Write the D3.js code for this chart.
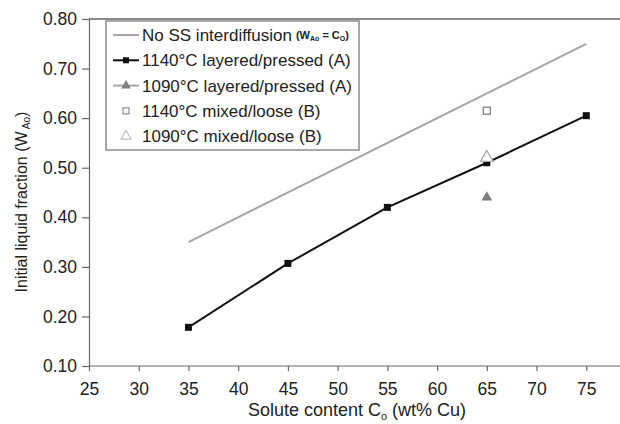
<!DOCTYPE html>
<html>
<head>
<meta charset="utf-8">
<script src="https://cdn.jsdelivr.net/npm/d3@7"></script>
<style>
  body { margin: 0; background: #fff; }
  svg { display: block; font-family: "Liberation Sans", Arial, sans-serif; }
</style>
</head>
<body>
<div id="chart-area"></div>
<script>
// data
var noSSx = [35, 75];
var noSSy = [0.35, 0.75];
var layered1140x = [35, 45, 55, 65, 75];
var layered1140y = [0.178, 0.307, 0.42, 0.51, 0.605];
var layered1090x = [65];
var layered1090y = [0.44];
var mixed1140x = [65];
var mixed1140y = [0.615];
var mixed1090x = [65];
var mixed1090y = [0.52];
var xTicks = [25, 30, 35, 40, 45, 50, 55, 60, 65, 70, 75];
var yTicks = [0.10, 0.20, 0.30, 0.40, 0.50, 0.60, 0.70, 0.80];

var W = 620, H = 424;
var margin = {top: 19, left: 89, bottom: 58};
// axis runs 25..80 but the picture is cut at the right edge
var x = d3.scaleLinear().domain([25, 80]).range([margin.left, 636]);
var y = d3.scaleLinear().domain([0.10, 0.80]).range([H - margin.bottom, margin.top]);

var svg = d3.select("#chart-area").append("svg")
  .attr("width", W).attr("height", H);

// frame top
svg.append("line")
  .attr("x1", x(25)).attr("x2", x(80))
  .attr("y1", y(0.8)).attr("y2", y(0.8))
  .attr("stroke", "#8a8a8a").attr("stroke-width", 2);

var xAxis = svg.append("g")
  .attr("transform", "translate(0," + y(0.1) + ")")
  .call(d3.axisBottom(x).tickValues(xTicks).tickSize(5).tickSizeOuter(0).tickPadding(12));
var yAxis = svg.append("g")
  .attr("transform", "translate(" + x(25) + ",0)")
  .call(d3.axisLeft(y).tickValues(yTicks).tickSize(7).tickSizeOuter(0).tickPadding(5)
    .tickFormat(d3.format(".2f")));

[xAxis, yAxis].forEach(function(a) {
  a.selectAll("path, line").attr("stroke", "#666").attr("stroke-width", 1.2);
  a.selectAll("text").attr("font-size", "17.5px").attr("fill", "#222")
    .attr("font-family", "Liberation Sans, Arial, sans-serif");
});
xAxis.select(".domain").attr("d", "M" + x(25) + ",0H" + x(80));

// series lines
var line = d3.line().x(function(d) { return x(d[0]); }).y(function(d) { return y(d[1]); });
svg.append("path")
  .datum(d3.zip(noSSx, noSSy))
  .attr("d", line).attr("fill", "none")
  .attr("stroke", "#a6a6a6").attr("stroke-width", 2);
svg.append("path")
  .datum(d3.zip(layered1140x, layered1140y))
  .attr("d", line).attr("fill", "none")
  .attr("stroke", "#111").attr("stroke-width", 2);

svg.selectAll(".sq1140").data(d3.zip(layered1140x, layered1140y)).enter()
  .append("rect")
    .attr("x", function(d) { return x(d[0]) - 3.5; })
    .attr("y", function(d) { return y(d[1]) - 3.5; })
    .attr("width", 7).attr("height", 7).attr("fill", "#111");

var tri = d3.symbol().type(d3.symbolTriangle).size(50);
svg.selectAll(".tri1090").data(d3.zip(layered1090x, layered1090y)).enter()
  .append("path")
    .attr("d", tri)
    .attr("transform", function(d) { return "translate(" + x(d[0]) + "," + y(d[1]) + ")"; })
    .attr("fill", "#7f7f7f");

svg.selectAll(".sqmix").data(d3.zip(mixed1140x, mixed1140y)).enter()
  .append("rect")
    .attr("x", function(d) { return x(d[0]) - 3.5; })
    .attr("y", function(d) { return y(d[1]) - 3.5; })
    .attr("width", 7).attr("height", 7)
    .attr("fill", "#fff").attr("stroke", "#777").attr("stroke-width", 1.2);

svg.selectAll(".trimix").data(d3.zip(mixed1090x, mixed1090y)).enter()
  .append("path")
    .attr("d", d3.symbol().type(d3.symbolTriangle).size(70))
    .attr("transform", function(d) { return "translate(" + x(d[0]) + "," + y(d[1]) + ")"; })
    .attr("fill", "#fff").attr("stroke", "#aaa").attr("stroke-width", 1.3);

// legend
var leg = svg.append("g");
leg.append("rect")
  .attr("x", 106).attr("y", 21).attr("width", 253).attr("height", 129)
  .attr("fill", "#fff").attr("stroke", "#8a8a8a").attr("stroke-width", 1.5);

var items = [
  {label: "No SS interdiffusion", kind: "gray"},
  {label: "1140°C layered/pressed (A)", kind: "black"},
  {label: "1090°C layered/pressed (A)", kind: "tri"},
  {label: "1140°C mixed/loose (B)", kind: "osq"},
  {label: "1090°C mixed/loose (B)", kind: "otri"}
];
items.forEach(function(it, i) {
  var cy = 35 + i * 25.3;
  if (it.kind === "gray" || it.kind === "black" || it.kind === "tri") {
    leg.append("line").attr("x1", 113).attr("x2", 139).attr("y1", cy).attr("y2", cy)
      .attr("stroke", it.kind === "black" ? "#111" : "#a6a6a6").attr("stroke-width", 2);
  }
  if (it.kind === "black") {
    leg.append("rect").attr("x", 123).attr("y", cy - 3).attr("width", 6).attr("height", 6).attr("fill", "#111");
  }
  if (it.kind === "tri") {
    leg.append("path").attr("d", d3.symbol().type(d3.symbolTriangle).size(40))
      .attr("transform", "translate(126," + cy + ")").attr("fill", "#7f7f7f");
  }
  if (it.kind === "osq") {
    leg.append("rect").attr("x", 123).attr("y", cy - 3).attr("width", 6).attr("height", 6)
      .attr("fill", "#fff").attr("stroke", "#777").attr("stroke-width", 1);
  }
  if (it.kind === "otri") {
    leg.append("path").attr("d", d3.symbol().type(d3.symbolTriangle).size(45))
      .attr("transform", "translate(126," + cy + ")")
      .attr("fill", "#fff").attr("stroke", "#aaa").attr("stroke-width", 1);
  }
  var t = leg.append("text").attr("x", 142).attr("y", cy + 6)
    .attr("font-size", "17px").attr("fill", "#222").text(it.label);
  if (i === 0) {
    var endX = 142 + t.node().getComputedTextLength();
    var s = leg.append("text").attr("x", Math.max(endX + 4, 282)).attr("y", cy + 4)
      .attr("font-size", "11px").attr("font-weight", "bold").attr("fill", "#222");
    s.append("tspan").text("(W");
    s.append("tspan").attr("font-size", "7px").attr("dy", 2).text("Ao");
    s.append("tspan").attr("dy", -2).text(" = C");
    s.append("tspan").attr("font-size", "7px").attr("dy", 2).text("O");
    s.append("tspan").attr("dy", -2).text(")");
  }
});

// axis titles
var xt = svg.append("text")
  .attr("x", 357).attr("y", 416).attr("text-anchor", "middle")
  .attr("font-size", "18px").attr("fill", "#222");
xt.append("tspan").text("Solute content C");
xt.append("tspan").attr("font-size", "11px").attr("dy", 4).text("o");
xt.append("tspan").attr("dy", -4).text(" (wt% Cu)");

var yt = svg.append("text")
  .attr("transform", "translate(27,202) rotate(-90)")
  .attr("text-anchor", "middle").attr("font-size", "16px").attr("fill", "#222");
yt.append("tspan").text("Initial liquid fraction (W");
yt.append("tspan").attr("font-size", "10px").attr("dy", 3).text(" Ao");
yt.append("tspan").attr("dy", -3).text(")");
</script>
</body>
</html>
